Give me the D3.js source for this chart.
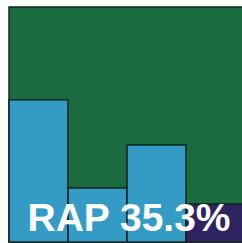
<!DOCTYPE html>
<html>
<head>
<meta charset="utf-8">
<script src="https://cdn.jsdelivr.net/npm/d3@7"></script>
<style>
  body { margin: 0; background: #fff; overflow: hidden; }
</style>
</head>
<body>
<svg id="chart" width="242" height="243"></svg>
<script>
// bar categories and their shares (fraction of the panel height)
var categories = ['a', 'b', 'c', 'd'];
var values = [0.605, 0.23, 0.413, 0.162];
var barColors = ['#339bc4', '#339bc4', '#339bc4', '#2e2360'];
var label = 'RAP 35.3%';

var svg = d3.select('#chart');

// panel box, runs slightly past the right / bottom edge
var panelLeft = 9, panelTop = 7, panelRight = 245, panelBottom = 242;

var x = d3.scaleBand()
    .domain(categories)
    .range([panelLeft, panelRight])
    .padding(0);

var y = d3.scaleLinear()
    .domain([0, 1])
    .range([panelBottom, panelTop]);

// green background
svg.append('rect')
    .attr('x', panelLeft)
    .attr('y', panelTop)
    .attr('width', panelRight - panelLeft)
    .attr('height', panelBottom - panelTop)
    .style('fill', '#1a6b40')
    .style('stroke', '#14291c')
    .style('stroke-width', 1.5);

// bars
svg.selectAll('rect.bar')
    .data(values)
    .enter()
    .append('rect')
    .attr('class', 'bar')
    .attr('x', function(d, i) { return x(categories[i]); })
    .attr('y', function(d) { return y(d); })
    .attr('width', x.bandwidth())
    .attr('height', function(d) { return y(0) - y(d); })
    .style('fill', function(d, i) { return barColors[i]; })
    .style('stroke', '#14241c')
    .style('stroke-width', 1.5);

// big label
svg.append('text')
    .attr('x', 129)
    .attr('y', 231)
    .attr('text-anchor', 'middle')
    .style('font-family', '"Liberation Sans", Arial, sans-serif')
    .style('font-weight', 'bold')
    .style('font-size', '39px')
    .style('fill', '#ffffff')
    .text(label);
</script>
</body>
</html>
